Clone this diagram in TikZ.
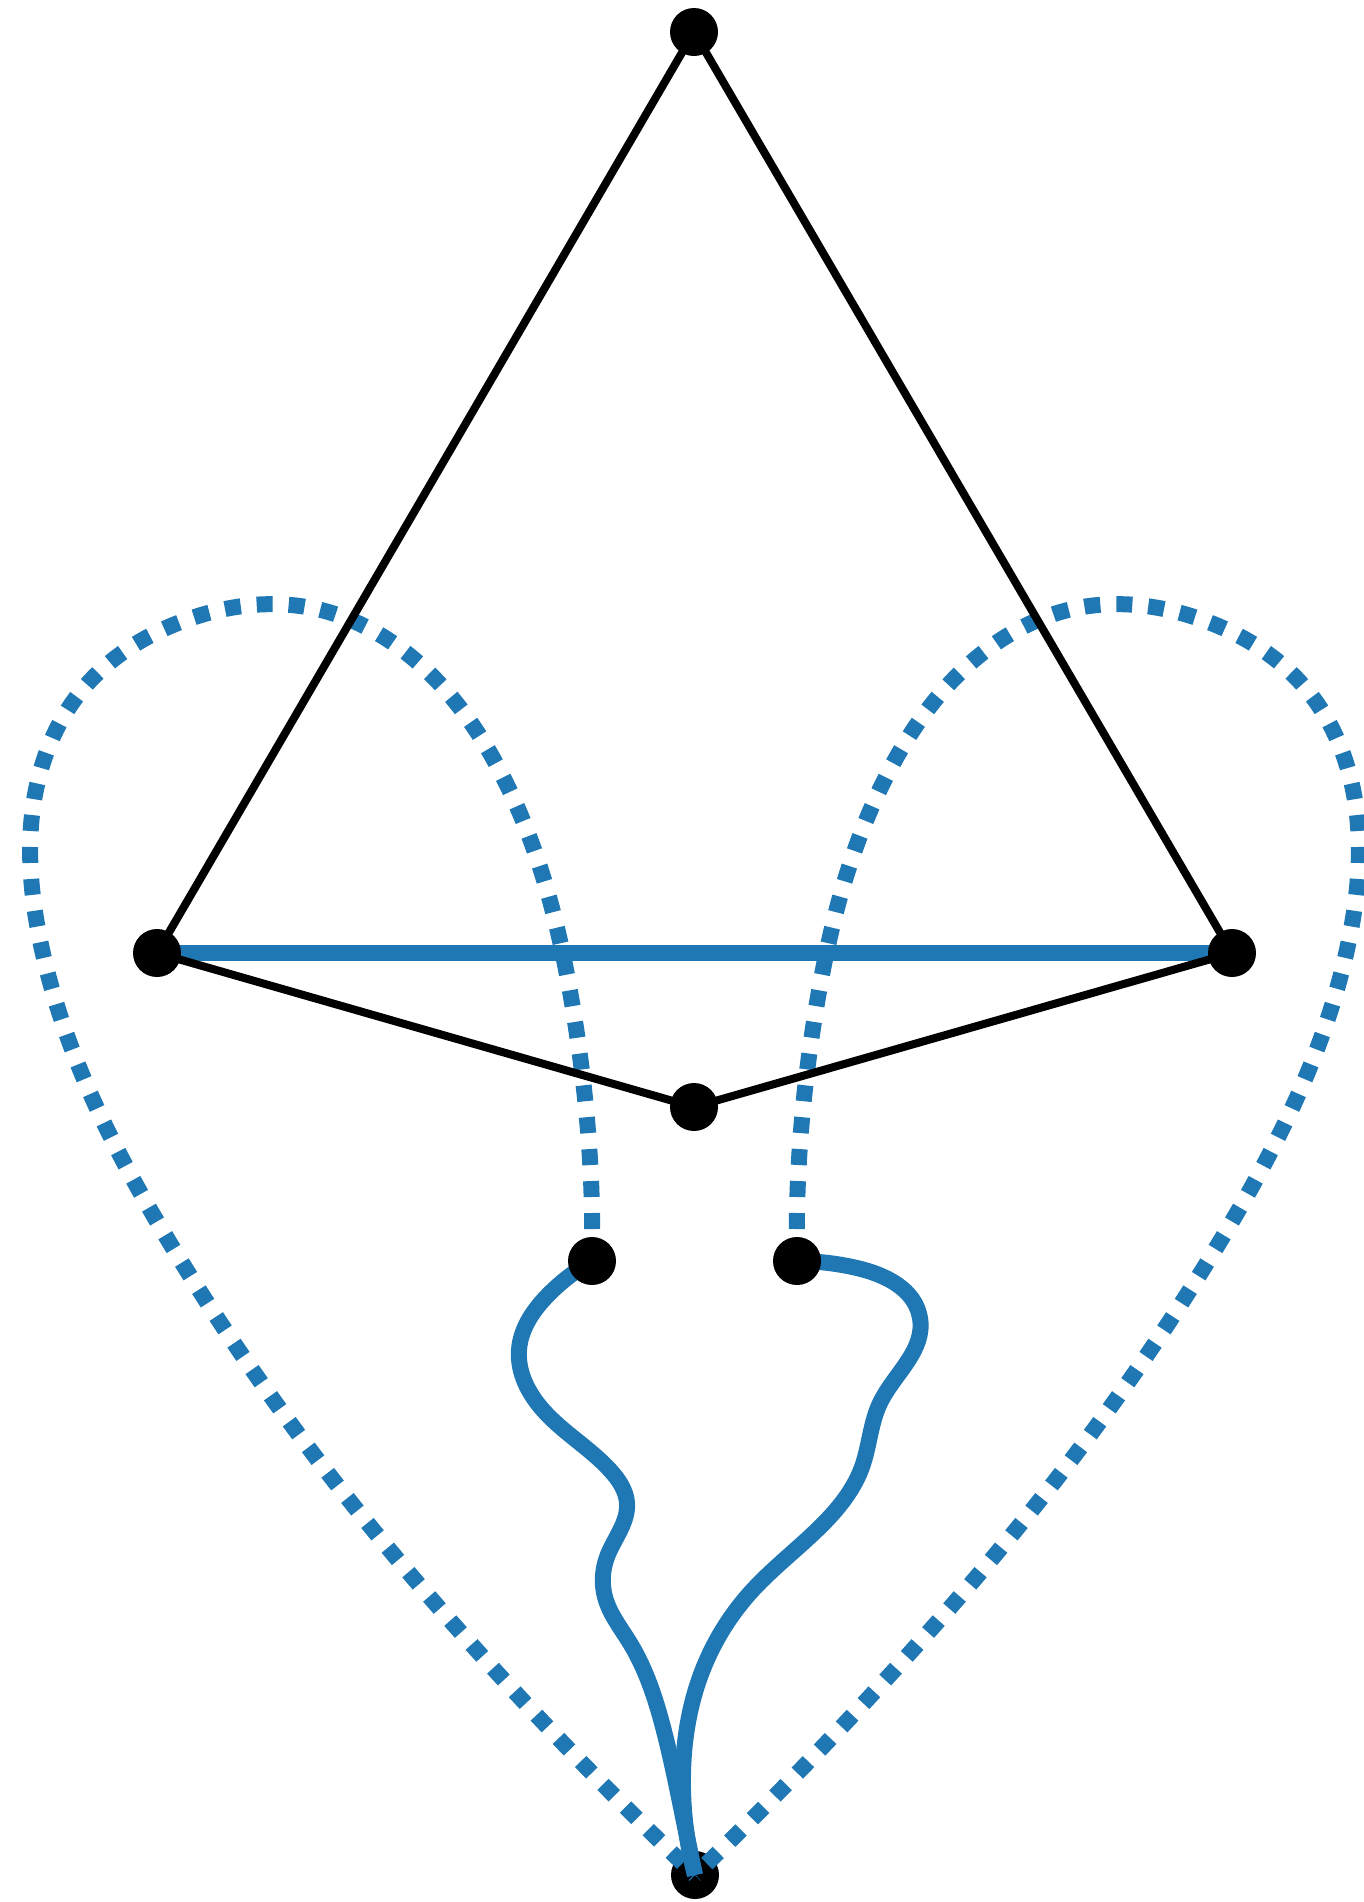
\documentclass[tikz,border=0pt]{standalone}
\usetikzlibrary{hobby}
\definecolor{tabblue}{HTML}{1F77B4}
\pgfdeclarelayer{botnode}
\pgfdeclarelayer{edges}
\pgfsetlayers{botnode,edges,main}
\begin{document}
\begin{tikzpicture}[x=0.5pt,y=-0.5pt,
  vertex/.style={circle,fill=black,inner sep=0pt,minimum size=24pt},
  blackedge/.style={draw=black,line width=4pt},
  blueedge/.style={draw=tabblue,line width=8pt,line join=round},
  dotedge/.style={draw=tabblue,line width=8pt,dash pattern=on 8pt off 8pt},
]
\useasboundingbox (0,0) rectangle (1364,1902);
\node[vertex] (top) at (694,32) {};
\node[vertex] (lft) at (157,953) {};
\node[vertex] (rgt) at (1232,953) {};
\node[vertex] (mid) at (694,1107) {};
\node[vertex] (ll) at (592,1261) {};
\node[vertex] (lr) at (797,1261) {};
\begin{pgfonlayer}{botnode}
\node[vertex] (bot) at (695,1875) {};
\end{pgfonlayer}
\begin{pgfonlayer}{edges}
% dotted loops
\draw[dotedge,use Hobby shortcut] (ll.center) .. (590,1160) .. (574,1015) .. (547,890) .. (501,773) .. (424,668) .. (312,608) .. (186,620) .. (82,690) .. (33,807) .. (39,935) .. (64,1027) .. (176,1253) .. (324,1468) .. (491,1666) .. (bot.center);
\draw[dotedge,use Hobby shortcut] (lr.center) .. (799,1160) .. (815,1015) .. (842,890) .. (888,773) .. (965,668) .. (1077,608) .. (1203,620) .. (1307,690) .. (1356,807) .. (1350,935) .. (1325,1027) .. (1213,1253) .. (1065,1468) .. (898,1666) .. (bot.center);
% solid blue edges
\draw[blueedge] (lft.center) -- (rgt.center);
\draw[blueedge,use Hobby shortcut] (ll.center) .. (550,1293) .. (519,1350) .. (543,1410) .. (610,1470) .. (627,1503) .. (607,1557) .. (605,1597) .. (630,1643) .. (663,1727) .. (683,1817) .. (bot.center);
\draw[blueedge,use Hobby shortcut] (lr.center) .. (857,1268) .. (920,1318) .. (880,1403) .. (862,1467) .. (820,1527) .. (750,1593) .. (700,1677) .. (683,1773) .. (bot.center);
% black edges
\draw[blackedge] (top.center) -- (lft.center);
\draw[blackedge] (top.center) -- (rgt.center);
\draw[blackedge] (lft.center) -- (mid.center);
\draw[blackedge] (rgt.center) -- (mid.center);
\end{pgfonlayer}
\end{tikzpicture}
\end{document}
